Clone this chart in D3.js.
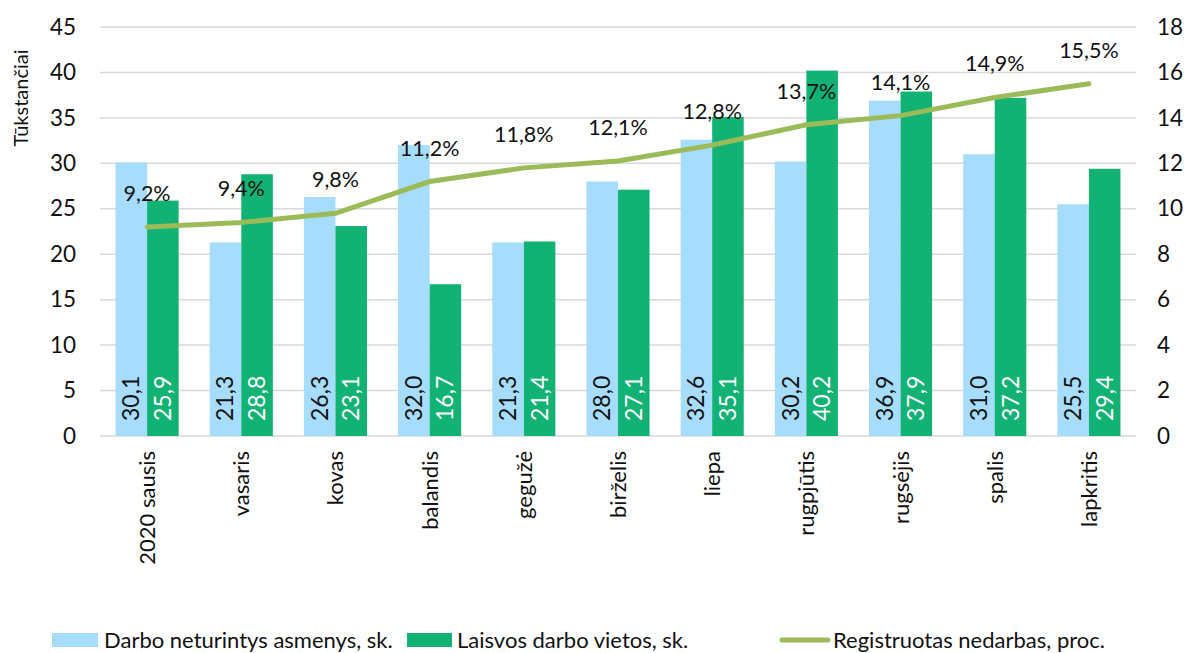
<!DOCTYPE html>
<html><head><meta charset="utf-8">
<script src="https://cdn.jsdelivr.net/npm/d3@7"></script>
<style>body{margin:0;background:#fff}svg{font-family:Lato,"Open Sans",sans-serif}</style>
</head><body><svg id="c" width="1188" height="653"></svg>
<script>
const categories=["2020 sausis","vasaris","kovas","balandis","gegužė","birželis","liepa","rugpjūtis","rugsėjis","spalis","lapkritis"];
const unemployed=[30.1,21.3,26.3,32.0,21.3,28.0,32.6,30.2,36.9,31.0,25.5];
const vacancies=[25.9,28.8,23.1,16.7,21.4,27.1,35.1,40.2,37.9,37.2,29.4];
const rate=[9.2,9.4,9.8,11.2,11.8,12.1,12.8,13.7,14.1,14.9,15.5];
const leftTicks=[0,5,10,15,20,25,30,35,40,45];
const rightTicks=[0,2,4,6,8,10,12,14,16,18];
const seriesNames=["Darbo neturintys asmenys, sk.","Laisvos darbo vietos, sk.","Registruotas nedarbas, proc."];
const colors={blue:"#A6DDFD",green:"#12B274",line:"#9BBB59"};
const fmt=v=>v.toFixed(1).replace(".",",");

const svg=d3.select("#c");
const L=100,R=1136,T=27,B=436;
const x=d3.scaleBand().domain(categories).range([L,R]).paddingInner(0.33).paddingOuter(0.165);
const yL=d3.scaleLinear().domain([0,45]).range([B,T]);
const yR=d3.scaleLinear().domain([0,18]).range([B,T]);
const bw=x.bandwidth()/2;

svg.append("g").selectAll("line").data(leftTicks).join("line")
 .attr("x1",L).attr("x2",R).attr("y1",d=>yL(d)).attr("y2",d=>yL(d))
 .attr("stroke","#d9d9d9").attr("stroke-width",1.5);

const gl=svg.append("g").attr("transform",`translate(${L-24},0)`)
 .call(d3.axisLeft(yL).tickValues(leftTicks).tickSize(0).tickPadding(0));
gl.select(".domain").remove();
gl.selectAll("text").attr("font-size",22.5).attr("fill","#111").attr("font-family","Lato,sans-serif");

const gr=svg.append("g").attr("transform",`translate(${R+21},0)`)
 .call(d3.axisRight(yR).tickValues(rightTicks).tickSize(0).tickPadding(0));
gr.select(".domain").remove();
gr.selectAll("text").attr("font-size",22.5).attr("fill","#111").attr("font-family","Lato,sans-serif");

svg.append("text").attr("transform","translate(28,98) rotate(-90)").attr("text-anchor","middle")
 .attr("font-size",20).attr("fill","#111").text("Tūkstančiai");

svg.append("g").selectAll("rect").data(unemployed).join("rect")
 .attr("x",(d,i)=>x(categories[i])).attr("width",bw)
 .attr("y",d=>yL(d)).attr("height",d=>B-yL(d)).attr("fill",colors.blue);
svg.append("g").selectAll("rect").data(vacancies).join("rect")
 .attr("x",(d,i)=>x(categories[i])+bw).attr("width",bw)
 .attr("y",d=>yL(d)).attr("height",d=>B-yL(d)).attr("fill",colors.green);

svg.append("g").selectAll("text").data(unemployed).join("text")
 .attr("transform",(d,i)=>`translate(${x(categories[i])+bw/2+8},${B-15}) rotate(-90)`)
 .attr("font-size",23).attr("fill","#111").text(d=>fmt(d));
svg.append("g").selectAll("text").data(vacancies).join("text")
 .attr("transform",(d,i)=>`translate(${x(categories[i])+bw*1.5+8},${B-15}) rotate(-90)`)
 .attr("font-size",23).attr("fill","#fff").text(d=>fmt(d));

const cx=i=>x(categories[i])+x.bandwidth()/2;
svg.append("path").datum(rate)
 .attr("d",d3.line().x((d,i)=>cx(i)).y(d=>yR(d)))
 .attr("fill","none").attr("stroke",colors.line).attr("stroke-width",5).attr("stroke-linecap","round");

svg.append("g").selectAll("text").data(rate).join("text")
 .attr("x",(d,i)=>cx(i)).attr("y",d=>yR(d)-26).attr("text-anchor","middle")
 .attr("font-size",21.5).attr("fill","#111").text(d=>fmt(d)+"%");

svg.append("g").selectAll("text").data(categories).join("text")
 .attr("transform",(d,i)=>`translate(${cx(i)+8},451) rotate(-90)`).attr("text-anchor","end")
 .attr("font-size",22).attr("fill","#111").text(d=>d);

const lg=svg.append("g");
lg.append("rect").attr("x",52).attr("y",633).attr("width",46).attr("height",14).attr("fill",colors.blue);
lg.append("text").attr("x",104).attr("y",648).attr("font-size",22).attr("fill","#111").text(seriesNames[0]);
lg.append("rect").attr("x",407).attr("y",633).attr("width",45).attr("height",14).attr("fill",colors.green);
lg.append("text").attr("x",457).attr("y",648).attr("font-size",22).attr("fill","#111").text(seriesNames[1]);
lg.append("line").attr("x1",782).attr("x2",828).attr("y1",640).attr("y2",640).attr("stroke",colors.line).attr("stroke-width",5).attr("stroke-linecap","round");
lg.append("text").attr("x",833).attr("y",648).attr("font-size",22).attr("fill","#111").text(seriesNames[2]);
</script></body></html>
